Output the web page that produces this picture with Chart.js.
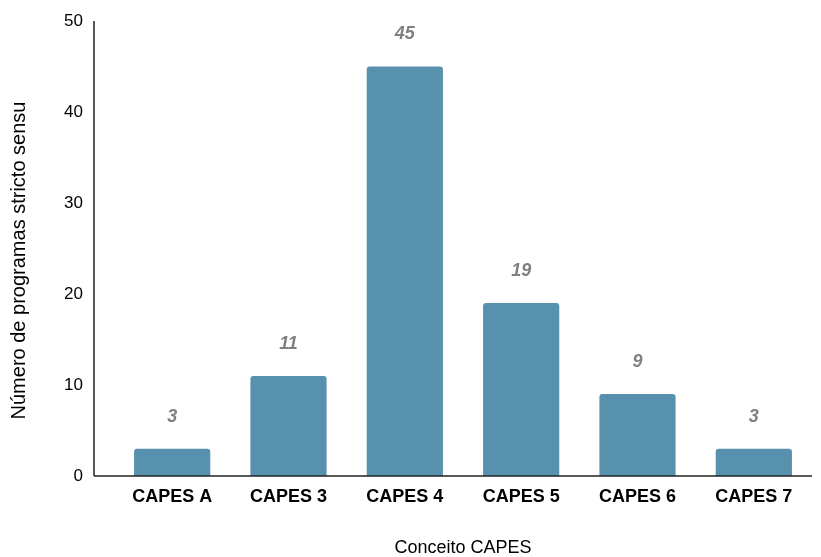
<!DOCTYPE html>
<html>
<head>
<meta charset="utf-8">
<script src="https://cdn.jsdelivr.net/npm/chart.js@4"></script>
<style>
  html, body { margin: 0; padding: 0; background: #fff; }
  #wrap { width: 821px; height: 557px; }
</style>
</head>
<body>
<div id="wrap"><canvas id="grafica" width="821" height="557"></canvas></div>
<script>
const categorias = ["CAPES A", "CAPES 3", "CAPES 4", "CAPES 5", "CAPES 6", "CAPES 7"];
const programas = [3, 11, 45, 19, 9, 3];
const ticksY = [0, 10, 20, 30, 40, 50];
const tituloY = "Número de programas stricto sensu";

Chart.defaults.font.family = "'Liberation Sans', Arial, sans-serif";
Chart.defaults.color = "#000";

// value labels over the bars
const etiquetas = {
    id: "etiquetas",
    afterDatasetsDraw(chart) {
        const c = chart.ctx;
        const meta = chart.getDatasetMeta(0);
        c.save();
        c.font = "italic bold 18px 'Liberation Sans', Arial, sans-serif";
        c.fillStyle = "#808080";
        c.textAlign = "center";
        c.textBaseline = "middle";
        meta.data.forEach((bar, i) => {
            c.fillText(programas[i], bar.x, bar.y - 32);
        });
        c.restore();
    }
};

// axis lines (the y line sits a bit left of the first category) + y title
const ejes = {
    id: "ejes",
    afterDatasetsDraw(chart) {
        const c = chart.ctx;
        const a = chart.chartArea;
        const x0 = a.left - 20;
        c.save();
        c.strokeStyle = "#222";
        c.lineWidth = 1.5;
        c.beginPath();
        c.moveTo(x0, a.top);
        c.lineTo(x0, a.bottom);
        c.moveTo(x0, a.bottom);
        c.lineTo(a.right, a.bottom);
        c.stroke();

        c.translate(19, (a.top + a.bottom) / 2 + 12);
        c.rotate(-Math.PI / 2);
        c.font = "20px 'Liberation Sans', Arial, sans-serif";
        c.fillStyle = "#000";
        c.textAlign = "center";
        c.textBaseline = "middle";
        c.fillText(tituloY, 0, 0);
        c.restore();
    }
};

new Chart(document.getElementById("grafica").getContext("2d"), {
    type: "bar",
    data: {
        labels: categorias,
        datasets: [{
            data: programas,
            backgroundColor: "#5891ae",
            borderRadius: 3,
            borderSkipped: "start",
            barPercentage: 1,
            categoryPercentage: 0.655
        }]
    },
    options: {
        responsive: false,
        animation: false,
        layout: { padding: { top: 21, right: 9, left: 0, bottom: 0 } },
        plugins: { legend: { display: false }, tooltip: { enabled: false } },
        scales: {
            x: {
                afterFit(scale) { scale.height = 81; },
                grid: { display: false, drawTicks: false },
                border: { display: false },
                ticks: { font: { size: 18, weight: "bold" }, padding: 10, color: "#000" },
                title: { display: true, text: "Conceito CAPES", font: { size: 18, lineHeight: 1 }, padding: { top: 20, bottom: 0 } }
            },
            y: {
                min: 0,
                max: 50,
                afterBuildTicks(scale) {
                    scale.ticks = ticksY.map(v => ({ value: v }));
                },
                afterFit(scale) {
                    scale.width = 114;
                    scale.paddingTop = 0;
                    scale.paddingBottom = 0;
                },
                grid: { display: false, drawTicks: false },
                border: { display: false },
                ticks: { font: { size: 17 }, padding: 31, color: "#000" }
            }
        }
    },
    plugins: [etiquetas, ejes]
});
</script>
</body>
</html>
